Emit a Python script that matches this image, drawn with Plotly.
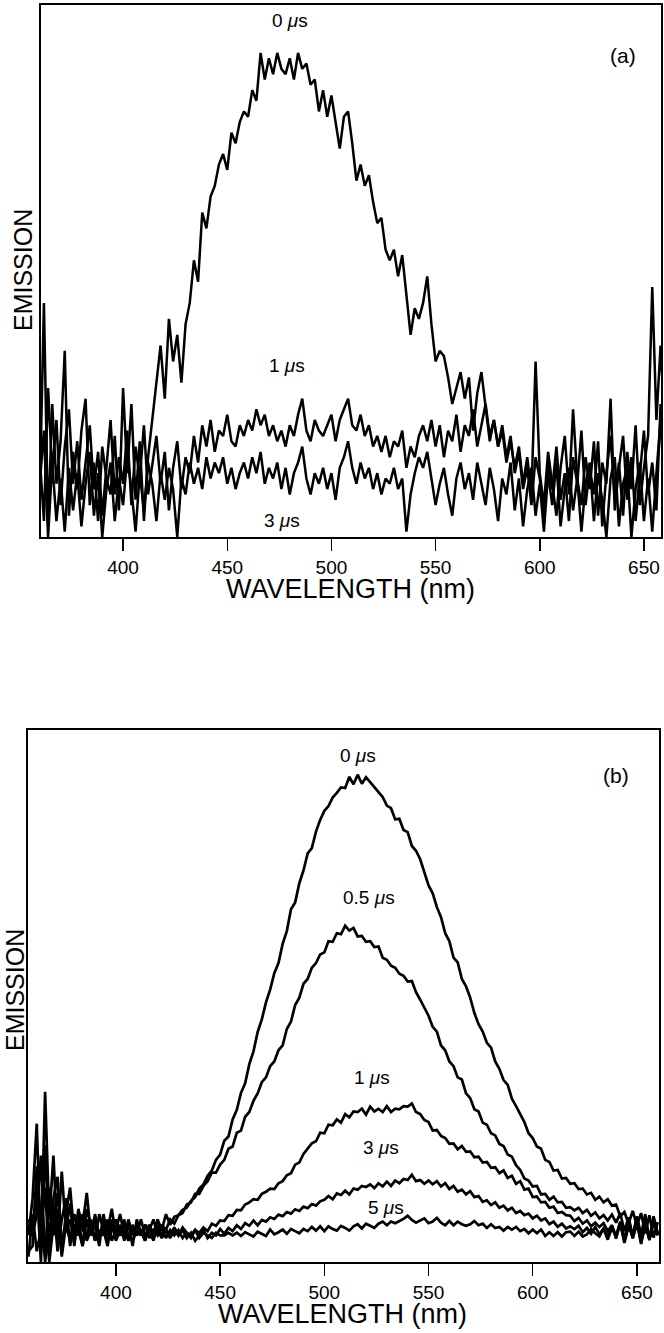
import plotly.graph_objects as go

# ---------------- data ----------------
# panel (a): wavelengths 360..660 nm step 2
wl_a = list(range(360, 661, 2))
a_0us = [8, 44, 2, 25, 10, 18, 35, 4, 16, 9,
         20, 26, 6, 14, 3, 17, 11, 8, 19, 5,
         28, 12, 25, 7, 18, 3, 15, 22, 28, 36,
         26, 41, 33, 38, 29, 40, 44, 52, 48, 61,
         58, 64, 66, 70, 72, 69, 76, 74, 78, 80,
         79, 84, 82, 91, 86, 90, 87, 91, 88, 87,
         90, 86, 91, 88, 89, 85, 86, 80, 84, 79,
         83, 78, 73, 79, 80, 74, 67, 70, 66, 68,
         63, 59, 60, 54, 52, 54, 49, 53, 46, 38,
         43, 41, 44, 49, 40, 33, 35, 34, 30, 25,
         28, 31, 26, 30, 20, 27, 31, 24, 18, 22,
         17, 21, 15, 19, 12, 16, 9, 13, 6, 15,
         11, 4, 14, 9, 17, 7, 12, 3, 15, 10,
         20, 6, 13, 8, 18, 2, 12, 19, 7, 14,
         4, 16, 9, 21, 6, 13, 19, 47, 22, 36,
         20]
a_1us = [15, 3, 28, 12, 22, 6, 17, 24, 10, 18,
         7, 14, 21, 9, 16, 4, 13, 22, 8, 15,
         10, 20, 6, 17, 11, 21, 8, 14, 19, 10,
         16, 5, 13, 18, 9, 15, 12, 19, 14, 21,
         17, 22, 16, 20, 19, 23, 18, 17, 21, 19,
         22, 20, 24, 21, 23, 19, 21, 18, 20, 17,
         21, 19, 23, 26, 20, 18, 22, 20, 19, 21,
         23, 18, 22, 24, 26, 21, 20, 23, 19, 21,
         17, 19, 16, 19, 15, 18, 17, 20, 13, 17,
         15, 19, 21, 18, 22, 17, 21, 15, 20, 18,
         23, 16, 21, 19, 24, 17, 21, 25, 19, 22,
         17, 20, 14, 18, 13, 17, 10, 15, 8, 33,
         12, 6, 16, 10, 4, 13, 19, 8, 24, 11,
         6, 15, 9, 18, 4, 14, 10, 26, 5, 13,
         19, 7, 15, 3, 12, 20, 8, 14, 5, 25,
         11]
a_3us = [10, 20, 0, 14, 3, 11, 1, 13, 5, 12,
         2, 10, 16, 4, 12, 0, 9, 14, 3, 11,
         6, 15, 9, 1, 12, 5, 14, 10, 3, 12,
         7, 13, 9, 0, 11, 8, 14, 10, 13, 9,
         15, 11, 14, 12, 15, 10, 13, 9, 12, 14,
         11, 15, 12, 16, 10, 13, 11, 14, 9, 13,
         8, 12, 14, 17, 11, 8, 12, 10, 13, 9,
         12, 7, 13, 15, 18, 13, 10, 14, 11, 13,
         9, 12, 8, 11, 10, 13, 9, 11, 1, 8,
         12, 15, 13, 16, 11, 6, 10, 13, 8, 4,
         11, 14, 9, 12, 7, 14, 10, 6, 13, 9,
         3, 11, 8, 14, 5, 11, 2, 9, 13, 4,
         10, 1, 12, 6, 14, 2, 9, 13, 5, 11,
         1, 10, 14, 3, 12, 7, 0, 11, 15, 2,
         10, 13, 0, 9, 14, 3, 11, 1, 12, 22,
         8]

# panel (b): wavelengths 358..660 nm step 2
wl_b = list(range(358, 661, 2))
b_0us = [5,
         12, 26, 2, 32, 8, 20, 4, 17, 6, 11,
         3, 9, 7, 13, 5, 9, 4, 8, 6, 10,
         5, 7, 4, 8, 5, 7, 6, 4, 7, 5,
         8, 6, 9, 7, 8.5, 8.8, 9.8, 10.2, 11.5, 12.2,
         13.8, 14.6, 16.2, 17.2, 19.2, 20.2, 22.8, 23.6, 26.8, 28.6,
         31.8, 33.6, 37.2, 39.6, 43.2, 45.6, 48.8, 51.2, 54.3, 56.2,
         59.8, 62.2, 66.3, 67.6, 71.2, 73.6, 76.8, 77.8, 80.9, 83.1,
         84.8, 85.7, 87.3, 88.2, 89.2, 89.1, 91.2, 89.8, 91.6, 89.9,
         91.1, 90.2, 89.3, 88.2, 87.4, 85.8, 85.3, 83.2, 83.3, 81.2,
         80.8, 78.2, 77.3, 75.7, 73.3, 70.8, 69.3, 66.7, 64.8, 61.8,
         60.3, 57.2, 56.3, 53.2, 51.8, 49.7, 46.8, 44.7, 43.3, 41.2,
         40.3, 37.7, 36.3, 34.2, 33.3, 30.7, 29.3, 27.7, 26.3, 24.2,
         23.3, 21.7, 21.3, 19.2, 18.8, 17.2, 17.3, 15.7, 15.8, 14.7,
         14.8, 13.7, 13.8, 12.7, 13.0, 11.7, 12.3, 11.2, 11.8, 10.6,
         10.8, 8.6, 9.4, 7.2, 9.6, 6.8, 9.2, 5.4, 8.8, 4.6,
         7.5]
b_05us = [8,
          6, 14, 0, 22, 3, 12, 16, 2, 9, 14,
          5, 8, 3, 10, 7, 4, 9, 6, 3, 8,
          6, 9, 5, 7, 3, 8, 5, 7, 6, 8,
          5, 7, 6, 8, 7.2, 8.8, 9.2, 10.8, 11.2, 12.8,
          12.8, 14.3, 15.2, 16.8, 16.8, 18.3, 19.2, 21.3, 21.7, 24.3,
          24.7, 27.3, 28.2, 30.3, 31.7, 33.8, 34.7, 36.8, 37.7, 39.8,
          40.7, 43.8, 45.2, 48.3, 49.7, 52.3, 53.2, 55.3, 56.2, 57.8,
          58.2, 60.3, 60.2, 61.8, 61.6, 63.2, 62.3, 62.8, 61.2, 61.3,
          60.2, 60.3, 59.2, 59.3, 57.2, 56.8, 55.7, 55.3, 54.2, 53.8,
          52.7, 52.8, 50.7, 49.3, 47.7, 46.3, 44.2, 43.3, 40.7, 39.8,
          37.7, 36.8, 34.7, 34.3, 31.7, 30.8, 28.7, 28.3, 26.2, 25.8,
          24.2, 23.8, 22.2, 21.8, 20.2, 19.8, 18.2, 17.3, 15.7, 15.3,
          14.2, 14.3, 12.7, 12.8, 11.7, 12.3, 11.2, 11.3, 10.2, 10.3,
          9.7, 10.2, 9.2, 9.8, 8.7, 9.3, 8.2, 8.8, 7.8, 8.9,
          7.4, 9.2, 5.8, 8.4, 4.9, 8.6, 5.1, 9.0, 4.3, 7.8,
          5.5]
b_1us = [2,
         3, 18, 7, 1, 14, 5, 10, 1, 7, 4,
         9, 6, 3, 8, 5, 7, 3, 9, 5, 7,
         4, 6, 8, 4, 6, 5, 8, 5, 6, 4,
         7, 5, 6, 4.5, 6, 5, 6.5, 5.5, 4.5, 6,
         5.5, 6.5, 5.8, 7.2, 6.8, 7.8, 7.7, 8.8, 8.7, 9.8,
         9.7, 10.8, 11.2, 11.8, 11.7, 12.8, 13.2, 13.8, 13.7, 14.8,
         15.2, 16.3, 16.7, 18.3, 18.7, 20.3, 21.2, 22.3, 22.7, 24.3,
         24.2, 25.8, 25.7, 26.8, 26.2, 27.8, 27.2, 28.3, 28.2, 28.8,
         27.7, 29.2, 28.3, 28.8, 28.2, 29.3, 28.2, 28.8, 28.7, 29.3,
         29.2, 29.8, 28.2, 27.8, 26.7, 26.3, 24.7, 24.8, 23.7, 23.3,
         22.2, 22.3, 21.2, 21.8, 20.7, 20.8, 19.7, 19.8, 18.7, 18.8,
         17.7, 17.8, 16.7, 17.2, 15.8, 16.2, 14.7, 15.2, 13.6, 13.8,
         12.2, 12.3, 11.2, 11.3, 10.2, 10.4, 9.2, 9.4, 8.8, 8.7,
         7.7, 8.3, 7.2, 7.8, 6.7, 7.4, 6.6, 7.3, 5.8, 6.9,
         4.8, 7.6, 4.2, 8.1, 4.4, 7.2, 3.8, 7.9, 4.1, 8.3,
         5]
b_3us = [7,
         5, 9, 20, 0, 6, 11, 2, 8, 12, 3,
         7, 5, 9, 4, 6, 8, 5, 7, 4, 6,
         8, 5, 6, 4, 7, 5, 6, 4, 7, 5,
         6, 4.5, 6, 5, 6.5, 5, 6, 4.5, 5.5, 4,
         5, 6, 4.5, 5.5, 5, 6.2, 5.3, 6.4, 5.8, 6.9,
         6.2, 7.3, 6.8, 7.8, 6.9, 7.9, 7.6, 8.4, 8.1, 8.9,
         8.6, 9.4, 9.1, 9.9, 9.6, 10.4, 10.1, 10.9, 10.6, 11.4,
         11.7, 12.4, 11.8, 12.9, 12.6, 13.4, 12.7, 13.8, 13.6, 14.3,
         14.1, 14.6, 13.9, 14.8, 14.2, 15.1, 14.3, 15.3, 14.8, 15.6,
         15.4, 16.4, 15.2, 15.4, 14.7, 15.3, 14.6, 15.2, 14.2, 14.8,
         13.7, 14.3, 13.2, 13.6, 12.7, 13.3, 12.2, 12.4, 11.3, 11.6,
         10.7, 11.2, 10.2, 10.6, 9.7, 10.2, 9.2, 9.6, 8.8, 9.1,
         8.2, 8.7, 7.8, 8.2, 7.1, 7.6, 6.6, 7.2, 6.3, 6.7,
         6.2, 6.8, 5.6, 6.4, 5.3, 6.6, 5.2, 6.3, 4.6, 6.9,
         4.4, 7.3, 3.6, 6.8, 4.9, 8.2, 3.7, 7.1, 4.2, 8.6,
         5.2]
b_5us = [1,
         9, 2, 6, 14, 0, 7, 13, 4, 6, 8,
         4, 10, 6, 5, 8, 4, 6, 5, 8, 4,
         6, 5, 7, 5, 4, 6, 5, 7, 4.5, 6,
         5, 6.5, 4.5, 6, 5, 6, 4.5, 5.5, 5, 6,
         4.5, 5.5, 5, 4.5, 5.5, 5, 5, 5.5, 5, 5.5,
         4.9, 5.6, 5.2, 4.8, 5.7, 5.3, 4.9, 6.1, 5.2, 5.6,
         6.1, 5.3, 6.2, 5.8, 5.4, 6.2, 5.8, 6.6, 5.9, 6.7,
         5.8, 6.7, 6.2, 5.9, 6.8, 6.4, 5.9, 6.7, 7.1, 6.3,
         7.2, 6.8, 6.4, 7.2, 7.6, 6.9, 7.6, 7.3, 7.7, 8.1,
         8.7, 7.9, 7.4, 7.8, 8.2, 7.3, 7.6, 8.3, 7.4, 6.9,
         7.7, 6.9, 7.6, 7.1, 6.8, 7.1, 7.7, 6.9, 7.2, 6.4,
         7.1, 6.4, 6.6, 5.9, 6.6, 6.1, 6.6, 5.8, 6.2, 5.4,
         6.1, 5.4, 6.1, 4.9, 5.6, 4.9, 5.6, 4.8, 5.6, 5.7,
         4.9, 5.7, 4.8, 5.2, 6.2, 5.4, 4.8, 6.3, 4.2, 6.4,
         4.8, 7.4, 3.9, 6.8, 4.6, 7.6, 3.4, 6.9, 4.4, 7.5,
         5]

x_ticks = [400, 450, 500, 550, 600, 650]

series_a = [("0 μs", a_0us), ("1 μs", a_1us), ("3 μs", a_3us)]
series_b = [("0 μs", b_0us), ("0.5 μs", b_05us), ("1 μs", b_1us),
            ("3 μs", b_3us), ("5 μs", b_5us)]

# ---------------- figure ----------------
W, H = 664, 1333
FONT = "Liberation Sans, Arial, Helvetica, sans-serif"

fig = go.Figure()
for name, vals in series_a:
    fig.add_trace(go.Scatter(x=wl_a, y=vals, mode="lines", name=name,
                             line=dict(color="black", width=2.5),
                             xaxis="x", yaxis="y", showlegend=False,
                             hoverinfo="skip"))
for name, vals in series_b:
    fig.add_trace(go.Scatter(x=wl_b, y=vals, mode="lines", name=name,
                             line=dict(color="black", width=2.7),
                             xaxis="x2", yaxis="y2", showlegend=False,
                             hoverinfo="skip"))

def px_x(p):
    return p / W

def px_y(p):
    return 1 - p / H

xcommon = dict(showline=True, linecolor="black", linewidth=1.8, mirror=True,
               ticks="outside", ticklen=12, tickwidth=1.5, tickcolor="black",
               tickvals=x_ticks, showgrid=False, zeroline=False,
               tickfont=dict(family=FONT, size=19, color="black"))
ycommon = dict(showline=True, linecolor="black", linewidth=1.6, mirror=True,
               ticks="", showticklabels=False, showgrid=False, zeroline=False,
               range=[0, 100])

fig.update_layout(
    width=W, height=H,
    margin=dict(l=0, r=0, t=0, b=0),
    paper_bgcolor="white", plot_bgcolor="white",
    hovermode=False,
    font=dict(family=FONT, color="black"),
    xaxis=dict(domain=[px_x(41), px_x(661)], range=[360.6, 658.2],
               anchor="y", **xcommon),
    yaxis=dict(domain=[px_y(537), px_y(5)], anchor="x", **ycommon),
    xaxis2=dict(domain=[px_x(28), px_x(659)], range=[357.8, 660.6],
                anchor="y2", **xcommon),
    yaxis2=dict(domain=[px_y(1262), px_y(730)], anchor="x2", **ycommon),
)

ann = []
def label(text, x, y, size=19, angle=0):
    ann.append(dict(text=text, x=px_x(x), y=px_y(y), xref="paper", yref="paper",
                    showarrow=False, xanchor="center", yanchor="middle",
                    textangle=angle,
                    font=dict(family=FONT, size=size, color="black")))

# panel (a)
label("0 <i>μ</i>s", 290, 21)
label("(a)", 623, 55, size=21)
label("1 <i>μ</i>s", 287, 365)
label("3 <i>μ</i>s", 282, 520)
label("WAVELENGTH (nm)", 350, 589, size=27)
label("EMISSION", 23, 270, size=25, angle=-90)
# panel (b)
label("0 <i>μ</i>s", 358, 755)
label("(b)", 616, 775, size=21)
label("0.5 <i>μ</i>s", 369, 897)
label("1 <i>μ</i>s", 372, 1077)
label("3 <i>μ</i>s", 381, 1147)
label("5 <i>μ</i>s", 386, 1207)
label("WAVELENGTH (nm)", 342, 1314, size=27)
label("EMISSION", 15, 990, size=25, angle=-90)

fig.update_layout(annotations=ann)
fig.write_html(
    "out.html",
    config={"displayModeBar": False, "staticPlot": True},
    post_script="document.body.style.margin='0';"
                "document.body.style.overflow='hidden';"
                "document.documentElement.style.overflow='hidden';",
)
